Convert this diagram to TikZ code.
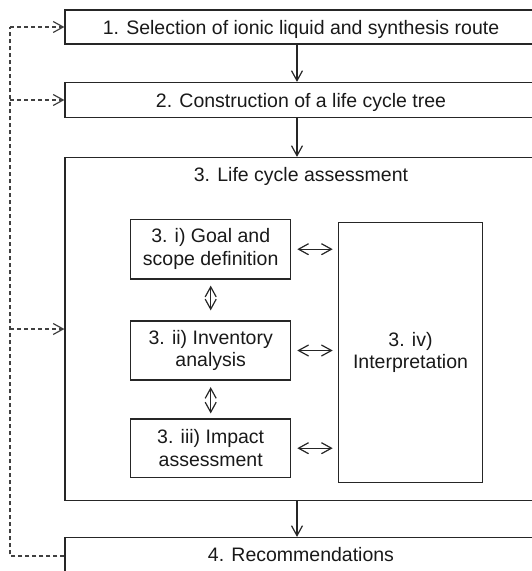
\documentclass[tikz,border=0pt]{standalone}
\usepackage{fontspec}
\setmainfont{Liberation Sans}
\usetikzlibrary{arrows.meta}
\begin{document}
\begin{tikzpicture}[x=1pt,y=-1pt,
  every node/.style={font=\fontsize{19.5}{22.8}\selectfont, text=black!90},
  bigbox/.style={draw=black!85, line width=1.2pt, minimum width=472pt, inner sep=0pt},
  smallbox/.style={draw=black!85, line width=1.2pt, align=center, inner sep=0pt},
  onearrow/.style={draw=black!85, line width=1.2pt, -{Straight Barb[length=10pt,width=11pt]}},
  twoarrow/.style={draw=black!85, line width=1.2pt, {Straight Barb[length=10pt,width=11pt]}-{Straight Barb[length=10pt,width=11pt]}},
  fb/.style={draw=black!75, line width=1.2pt, dash pattern=on 4pt off 3pt}
]
\useasboundingbox (0,0) rectangle (532,571);
% outer boxes
\node[bigbox, minimum height=34pt, text height=14pt, text depth=0pt] (b1) at (301,27) {1. Selection of ionic liquid and synthesis route};
\node[bigbox, minimum height=35pt, text height=14pt, text depth=0pt] (b2) at (301,100) {2. Construction of a life cycle tree};
\node[bigbox, minimum height=343pt] (b3) at (301,329) {};
\node[anchor=base] (t3) at (301,181.7) {3. Life cycle assessment};
\node[bigbox, minimum height=37pt, text height=14pt, text depth=3pt] (b4) at (301,556) {4. Recommendations};
% inner boxes
\node[smallbox, minimum width=160pt, minimum height=59.7pt] (goal) at (210.7,249.2) {3. i) Goal and\\scope definition};
\node[smallbox, minimum width=160pt, minimum height=59pt] (inv) at (210.7,350.5) {3. ii) Inventory\\analysis};
\node[smallbox, minimum width=160pt, minimum height=58.3pt] (imp) at (210.7,448.2) {3. iii) Impact\\assessment};
\node[smallbox, minimum width=144.4pt, minimum height=260.4pt] (interp) at (410.5,352.5) {3. iv)\\Interpretation};
% main flow arrows
\coordinate (ax) at (297,0);
\draw[onearrow] (b1.south -| ax) -- (b2.north -| ax);
\draw[onearrow] (b2.south -| ax) -- (b3.north -| ax);
\draw[onearrow] (b3.south -| ax) -- (b4.north -| ax);
% inner double arrows
\draw[twoarrow, shorten <=6pt, shorten >=10pt] (goal.south) -- (inv.north);
\draw[twoarrow, shorten <=6.5pt, shorten >=5pt] (inv.south) -- (imp.north);
\draw[twoarrow, shorten <=6pt, shorten >=5pt] (goal.east) -- (goal.east -| interp.west);
\draw[twoarrow, shorten <=6pt, shorten >=5pt] (inv.east) -- (inv.east -| interp.west);
\draw[twoarrow, shorten <=6pt, shorten >=5pt] (imp.east) -- (imp.east -| interp.west);
% feedback dashed lines
\coordinate (xl) at (10,0);
\draw[fb] (b4.west) -- (b4.west -| xl) -- (b1.west -| xl);
\draw[fb, -{Straight Barb[length=10pt,width=11pt]}] (b1.west -| xl) -- (b1.west);
\draw[fb, -{Straight Barb[length=10pt,width=11pt]}] (b2.west -| xl) -- (b2.west);
\draw[fb, -{Straight Barb[length=10pt,width=11pt]}] (b3.west -| xl) -- (b3.west);
\end{tikzpicture}
\end{document}
